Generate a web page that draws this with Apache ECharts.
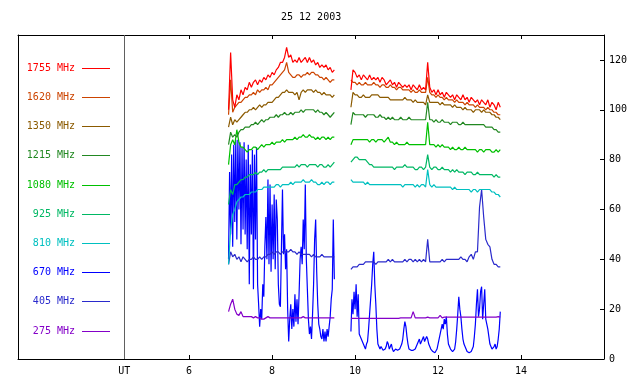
<!DOCTYPE html>
<html><head><meta charset="utf-8">
<script src="https://cdn.jsdelivr.net/npm/echarts@6/dist/echarts.min.js"></script>
<style>html,body{margin:0;padding:0;background:#fff}#c{width:640px;height:384px}</style>
</head><body><div id="c"></div>
<script>
const TITLE = '25 12 2003';
const X_TICKS = [6, 8, 10, 12, 14];
const Y_TICKS = [0, 20, 40, 60, 80, 100, 120];
const UT_LABEL = 'UT';
const UT_POS = 4.437;

// sampling times (UT hours), two observing segments
const T1 = [6.95,7.00,7.05,7.10,7.15,7.20,7.25,7.30,7.35,7.40,
7.45,7.50,7.55,7.60,7.65,7.70,7.75,7.80,7.85,7.90,
7.95,8.00,8.05,8.10,8.15,8.20,8.25,8.30,8.35,8.40,
8.45,8.50,8.55,8.60,8.65,8.70,8.75,8.80,8.85,8.90,
8.95,9.00,9.05,9.10,9.15,9.20,9.25,9.30,9.35,9.40,
9.45,9.50];
const T2 = [9.90,9.95,10.00,10.05,10.10,10.15,10.20,10.25,10.30,10.35,
10.40,10.45,10.50,10.55,10.60,10.65,10.70,10.75,10.80,10.85,
10.90,10.95,11.00,11.05,11.10,11.15,11.20,11.25,11.30,11.35,
11.40,11.45,11.50,11.55,11.60,11.65,11.70,11.75,11.80,11.85,
11.90,11.95,12.00,12.05,12.10,12.15,12.20,12.25,12.30,12.35,
12.40,12.45,12.50,12.55,12.60,12.65,12.70,12.75,12.80,12.85,
12.90,12.95,13.00,13.05,13.10,13.15,13.20,13.25,13.30,13.35,
13.40,13.45,13.50];
// finer sampling for the rapidly varying 670 MHz channel
const T670_A = [6.950,6.975,7.000,7.025,7.050,7.075,7.100,7.125,7.150,7.175,
7.200,7.225,7.250,7.275,7.300,7.325,7.350,7.375,7.400,7.425,
7.450,7.475,7.500,7.525,7.550,7.575,7.600,7.625,7.650,7.675,
7.700,7.725,7.750,7.775,7.800,7.825,7.850,7.875,7.900,7.925,
7.950,7.975,8.000,8.025,8.050,8.075,8.100,8.125,8.150,8.175,
8.200,8.225,8.250,8.275,8.300,8.325,8.350,8.375,8.400,8.425,
8.450,8.475,8.500,8.525,8.550,8.575,8.600,8.625,8.650,8.675,
8.700,8.725,8.750,8.775,8.800,8.825,8.850,8.875,8.900,8.925,
8.950,8.975,9.000,9.025,9.050,9.075,9.100,9.125,9.150,9.175,
9.200,9.225,9.250,9.275,9.300,9.325,9.350,9.375,9.400,9.425,
9.450,9.475,9.500];
const T670_B = [9.900,9.925,9.950,9.975,10.000,10.025,10.050,10.075,10.100,10.125,
10.150,10.175,10.200,10.225,10.250,10.275,10.300,10.325,10.350,10.375,
10.400,10.425,10.450,10.475,10.500,10.525,10.550,10.575,10.600,10.625,
10.650,10.675,10.700,10.725,10.750,10.775,10.800,10.825,10.850,10.875,
10.900,10.925,10.950,10.975,11.000,11.025,11.050,11.075,11.100,11.125,
11.150,11.175,11.200,11.225,11.250,11.275,11.300,11.325,11.350,11.375,
11.400,11.425,11.450,11.475,11.500,11.525,11.550,11.575,11.600,11.625,
11.650,11.675,11.700,11.725,11.750,11.775,11.800,11.825,11.850,11.875,
11.900,11.925,11.950,11.975,12.000,12.025,12.050,12.075,12.100,12.125,
12.150,12.175,12.200,12.225,12.250,12.275,12.300,12.325,12.350,12.375,
12.400,12.425,12.450,12.475,12.500,12.525,12.550,12.575,12.600,12.625,
12.650,12.675,12.700,12.725,12.750,12.775,12.800,12.825,12.850,12.875,
12.900,12.925,12.950,12.975,13.000,13.025,13.050,13.075,13.100,13.125,
13.150,13.175,13.200,13.225,13.250,13.275,13.300,13.325,13.350,13.375,
13.400,13.425,13.450,13.475,13.500];

const FREQ_LABELS = ['1755 MHz','1620 MHz','1350 MHz','1215 MHz','1080 MHz','925 MHz','810 MHz','670 MHz','405 MHz','275 MHz'];

const F1755_A = [100,123,104,101,106,104,108,106,109,108,
111,109,111,112,110,112,111,113,112,114,
113,115,114,116,117,119,119,121,125,121,
122,119,120,119,121,119,120,121,119,121,
119,120,118,119,117,118,117,118,116,117,
115,116];
const F1755_B = [108,116,115,113,114,112,114,113,112,114,
112,113,112,113,111,113,112,110,111,112,
110,111,109,111,110,109,110,109,110,108,
110,109,108,110,108,109,108,119,109,107,
108,106,108,106,107,105,107,106,105,106,
104,106,105,104,106,104,105,103,105,104,
103,104,102,104,103,102,104,101,103,102,
100,103,101];

const F1620_A = [98,112,99,101,102,103,103,104,105,105,
106,106,107,106,108,107,108,108,109,108,
110,110,111,112,113,114,115,116,119,115,
114,113,113,114,114,113,114,114,115,114,
115,115,114,114,113,113,112,113,112,111,
112,112];
const F1620_B = [112,111,111,110,111,110,110,111,110,110,
110,111,110,110,109,110,110,109,109,110,
109,109,108,109,109,108,108,108,108,107,
108,107,107,108,107,107,107,113,107,106,
106,105,106,105,105,104,105,104,104,104,
103,104,103,103,103,102,103,102,102,102,
101,102,101,101,101,100,101,100,100,99,
99,98,98];

const F1350_A = [93,97,94,96,95,96,97,98,99,99,
100,100,101,100,101,102,101,102,102,103,
103,103,104,105,105,106,107,107,108,107,
107,107,106,107,104,107,108,107,108,108,
108,107,108,107,107,106,107,106,106,106,
105,106];
const F1350_B = [101,107,106,106,105,105,106,105,105,105,
106,106,106,106,105,105,105,105,105,104,
104,104,104,104,104,104,105,104,104,104,
103,104,103,103,103,103,102,106,103,103,
103,103,103,102,103,102,102,102,102,101,
102,101,101,101,100,101,100,100,100,99,
100,100,100,99,100,99,99,99,98,98,
97,97,96];

const F1215_A = [86,91,89,90,89,91,92,92,93,93,
93,94,94,95,94,95,96,95,96,96,
97,97,97,98,97,98,98,99,98,98,
99,98,99,99,99,100,99,100,100,100,
100,100,99,100,99,99,98,99,98,97,
98,99];
const F1215_B = [94,99,98,98,98,98,98,97,98,98,
98,98,97,97,98,97,97,96,97,96,
97,96,96,96,97,96,96,96,97,96,
96,96,96,96,96,96,96,103,96,96,
95,96,95,95,96,95,95,95,94,95,
95,95,94,94,95,94,94,94,94,94,
94,94,94,94,94,93,93,93,93,92,
92,91,91];

const F1080_A = [78,86,88,86,92,87,85,85,84,83,
84,84,85,85,84,85,86,85,86,86,
86,87,86,87,87,87,88,87,88,88,
88,88,89,88,89,89,90,89,89,90,
89,89,88,89,88,89,89,88,89,88,
89,89];
const F1080_B = [86,88,88,88,88,88,88,88,88,87,
88,88,87,88,88,88,87,88,89,87,
87,86,87,86,86,86,86,87,86,86,
86,86,86,86,86,86,86,95,86,86,
86,85,86,85,86,85,85,85,84,85,
84,84,85,84,84,85,84,84,84,84,
84,83,84,84,83,84,84,84,83,83,
84,83,84];

const F925_A = [62,68,66,70,70,71,72,72,73,73,
74,74,74,75,74,75,75,76,75,76,
76,76,76,76,76,76,77,77,77,77,
77,77,77,78,77,78,78,78,77,78,
78,78,78,77,78,78,77,77,78,77,
78,79];
const F925_B = [79,80,81,81,80,80,80,80,79,78,
78,77,77,77,77,77,77,77,77,77,
77,76,77,77,77,77,78,77,77,77,
77,76,76,77,77,76,77,82,77,76,
77,77,76,76,77,76,76,76,75,76,
75,76,75,75,75,74,75,75,75,74,
74,75,74,74,74,74,74,74,74,73,
74,73,73];

const F810_A = [38,52,58,60,63,64,65,65,66,66,
66,67,67,67,68,68,68,69,69,69,
69,69,69,70,70,69,70,70,70,70,
71,70,71,71,71,71,72,71,71,71,
72,71,71,70,70,71,70,71,71,70,
71,71];
const F810_B = [72,71,71,71,71,71,71,70,71,70,
70,70,70,70,70,70,70,70,70,70,
70,70,70,70,70,69,70,70,70,70,
70,69,70,69,70,70,69,76,70,69,
70,69,69,69,69,69,69,69,69,68,
69,68,68,68,68,68,68,68,67,68,
68,67,68,68,68,68,68,68,67,67,
66,66,65];

const F670_A = [40,75,50,82,45,86,55,88,48,88,
60,87,46,85,52,87,50,80,44,86,
30,78,50,84,28,82,48,85,30,22,
13,20,16,30,25,45,57,40,72,38,
70,35,62,40,66,36,64,56,30,22,
21,45,68,42,50,36,44,20,7,16,
22,12,20,13,26,15,24,14,26,40,
45,38,56,44,70,40,28,16,10,13,
8,18,30,48,56,35,22,14,12,9,
8,12,7,11,7,12,9,13,17,24,
28,56,32];
const F670_B = [11,24,18,27,20,30,17,26,10,9,
8,7,6,5,4,6,7,12,18,24,
30,38,43,30,22,12,6,5,4,5,
5,3.5,3.5,4,5,7,6,4,5,6,
4,3,3,4,4,3.5,3.5,4,5,6,
8,12,15,13,9,6,4,3.5,3.5,3,
3.5,3.5,4,5,6,7,8,6,6,8,
9,7,7,9,8,6,5,4,3.5,3,
3,2.5,3,4,6,8,10,12,14,12,
16,14,17,10,6,5,4,3.5,3,3,
4,7,12,18,25,20,17,12,8,6,
5,4,3,2.5,2.5,3,3,4,5,9,
14,22,28,17,20,27,29,16,22,28,
16,14,12,9,6,5,4,4,5,6,
4,5,8,12,19];

const F405_A = [38,43,41,42,40,41,39,41,40,39,
40,40,41,40,40,41,40,41,41,42,
42,43,42,43,43,42,43,43,43,43,
44,43,43,42,43,42,42,42,42,42,
41,42,41,41,41,42,41,41,41,41,
41,41];
const F405_B = [36,37,37,37,38,38,38,39,39,39,
39,39,38,39,39,39,39,39,40,39,
40,39,39,39,39,39,40,39,40,40,
39,40,39,40,39,40,39,48,39,39,
39,39,39,39,40,39,40,40,40,40,
40,40,40,41,40,40,39,41,42,40,
43,43,61,68,57,48,46,45,40,38,
38,37,37];

const F275_A = [19,22,24,20,18,17.5,19,17,17,17,
17,17,16.5,17,16.5,16.5,16,16,16.5,17,
16.5,16.5,16.5,16.5,16.5,16.5,16.5,16.5,16.5,16.5,
16.5,16.5,16.5,16.5,16.5,16.5,17,16.5,16.5,16.5,
16.5,16.5,16.5,16.5,16.5,16.5,16.5,16.5,16.5,16.5,
16.5,16.5];
const F275_B = [16.3,16.3,16.3,16.3,16.3,16.3,16.3,16.3,16.3,16.3,
16.3,16.3,16.3,16.3,16.3,16.3,16.3,16.3,16.3,16.3,
16.3,16.3,16.3,16.3,16.5,16.5,16.5,16.5,16.5,16.5,
19,16.5,16.5,16.5,16.5,16.5,16.5,16.8,16.5,16.5,
16.5,16.5,16.5,17.5,16.5,16.8,16.8,16.8,16.8,16.8,
16.8,16.8,16.8,16.8,16.8,16.8,16.8,16.8,16.8,16.8,
16.8,16.8,16.8,16.8,16.8,16.8,16.8,16.8,16.8,16.8,
16.8,17,16.8];

const SERIES_DATA = [
  [T1, F1755_A, T2, F1755_B], [T1, F1620_A, T2, F1620_B], [T1, F1350_A, T2, F1350_B],
  [T1, F1215_A, T2, F1215_B], [T1, F1080_A, T2, F1080_B], [T1, F925_A, T2, F925_B],
  [T1, F810_A, T2, F810_B], [T670_A, F670_A, T670_B, F670_B],
  [T1, F405_A, T2, F405_B], [T1, F275_A, T2, F275_B]
];
const COLORS = ['#ff0000','#cc4400','#8b5a00','#228822','#00c000','#00b864','#00c0c0','#0000ff','#2a2acc','#8400c8'];
const DRAW_ORDER = [7, 9, 8, 6, 5, 4, 3, 2, 1, 0];
const FONT = 'DejaVu Sans Mono';

function build(ta, a, tb, b) {
  const out = [];
  for (let i = 0; i < Math.min(ta.length, a.length); i++) out.push([ta[i], a[i]]);
  out.push([(ta[ta.length - 1] + tb[0]) / 2, null]);
  for (let i = 0; i < Math.min(tb.length, b.length); i++) out.push([tb[i], b[i]]);
  return out;
}

const chart = echarts.init(document.getElementById('c'), null, {renderer: 'canvas'});
const series = DRAW_ORDER.map((k, n) => {
  const d = SERIES_DATA[k];
  const s = {
    name: FREQ_LABELS[k], type: 'line', data: build(d[0], d[1], d[2], d[3]),
    showSymbol: false, symbol: 'none', connectNulls: false, animation: false,
    lineStyle: {color: COLORS[k], width: 1.2}, itemStyle: {color: COLORS[k]},
    emphasis: {disabled: true}, silent: true, z: 2 + n
  };
  if (n === 0) {
    s.markLine = {silent: true, symbol: 'none', label: {show: false}, animation: false,
      lineStyle: {color: '#606060', type: 'solid', width: 1},
      data: [{xAxis: UT_POS}]};
  }
  return s;
});

const graphics = [];
FREQ_LABELS.forEach((lab, i) => {
  const y = Math.round(67.7 + i * 29.2) + 0.5;
  graphics.push({type: 'text', x: 75, y: y, silent: true,
    style: {text: lab, fill: COLORS[i], font: '10px "' + FONT + '"', textAlign: 'right', textVerticalAlign: 'middle'}});
  graphics.push({type: 'line', silent: true, shape: {x1: 82, y1: y, x2: 110, y2: y},
    style: {stroke: COLORS[i], lineWidth: 1}});
});

const xCommon = {type: 'value', min: 1.875, max: 16, splitLine: {show: false},
  axisLine: {show: true, onZero: false, lineStyle: {color: '#000', width: 1}}};

chart.setOption({
  animation: false,
  backgroundColor: '#fff',
  title: {text: TITLE, left: 276, top: 7, textStyle: {fontFamily: FONT, fontSize: 10, fontWeight: 'normal', color: '#000'}},
  grid: {left: 18, right: 36, top: 35, bottom: 25, containLabel: false},
  xAxis: [
    Object.assign({}, xCommon, {position: 'bottom',
      axisTick: {show: true, inside: true, length: 4, customValues: X_TICKS, lineStyle: {color: '#000'}},
      axisLabel: {show: true, margin: 7, customValues: [UT_POS].concat(X_TICKS), fontFamily: FONT, fontSize: 10, color: '#000',
        formatter: v => (Math.abs(v - UT_POS) < 0.01 ? UT_LABEL : String(v))}}),
    Object.assign({}, xCommon, {position: 'top',
      axisTick: {show: true, inside: true, length: 4, customValues: X_TICKS, lineStyle: {color: '#000'}},
      axisLabel: {show: false}})
  ],
  yAxis: [
    {type: 'value', position: 'right', min: 0, max: 130, splitLine: {show: false},
      axisLine: {show: true, onZero: false, lineStyle: {color: '#000', width: 1}},
      axisTick: {show: true, inside: true, length: 4, customValues: Y_TICKS, lineStyle: {color: '#000'}},
      axisLabel: {show: true, margin: 5, customValues: Y_TICKS, fontFamily: FONT, fontSize: 10, color: '#000'}},
    {type: 'value', position: 'left', min: 0, max: 130, splitLine: {show: false},
      axisLine: {show: true, onZero: false, lineStyle: {color: '#000', width: 1}},
      axisTick: {show: false}, axisLabel: {show: false}}
  ],
  graphic: graphics,
  series: series
});
</script>
</body></html>
